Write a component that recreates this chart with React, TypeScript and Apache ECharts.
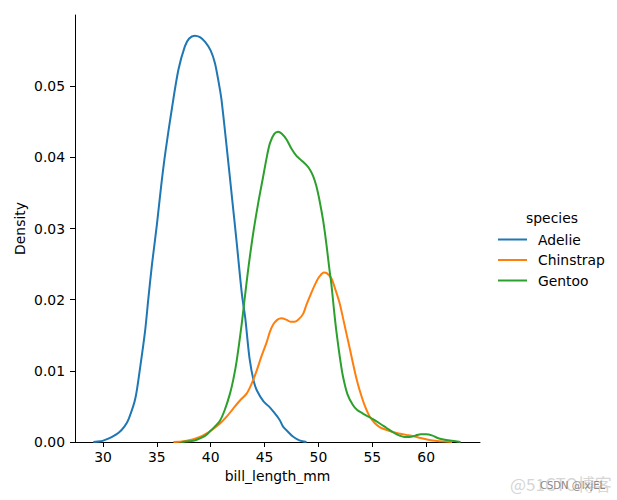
import React, { useEffect, useRef } from "react";
import * as echarts from "echarts";

const species = ["Adelie", "Chinstrap", "Gentoo"];
const colors = ["#1f77b4", "#ff7f0e", "#2ca02c"];

const adelieX = [29.1, 29.8, 30.2, 30.8, 31.45, 32.0, 32.4, 33.0, 33.45, 33.9, 34.2, 34.55, 35.0, 35.4, 35.8, 36.4, 37.0, 37.6, 38.0, 38.5, 39.0, 39.5, 40.0, 40.4, 40.8, 41.0, 41.5, 42.0, 42.4, 42.9, 43.2, 43.6, 44.0, 44.3, 44.9, 45.4, 45.8, 46.4, 46.7, 47.2, 47.6, 48.0, 48.5, 48.9];
const adelieY = [0, 0.0001, 0.0003, 0.0007, 0.0013, 0.0022, 0.0033, 0.0061, 0.0105, 0.0155, 0.02, 0.025, 0.0305, 0.036, 0.0408, 0.0469, 0.0523, 0.0556, 0.0567, 0.0571, 0.0569, 0.0562, 0.055, 0.0532, 0.05, 0.0481, 0.0412, 0.034, 0.0282, 0.0207, 0.0175, 0.0118, 0.0085, 0.0072, 0.0057, 0.005, 0.0043, 0.0031, 0.0022, 0.0014, 0.0008, 0.0004, 0.0001, 0];

const chinstrapX = [36.54, 37.5, 38.4, 39.0, 39.63, 40.2, 40.86, 41.5, 42.09, 42.7, 43.33, 43.8, 44.26, 44.7, 45.19, 45.5, 45.8, 46.2, 46.57, 47.0, 47.4, 47.8, 48.2, 48.58, 48.89, 49.35, 49.8, 50.12, 50.5, 50.8, 51.2, 51.6, 51.97, 52.3, 52.59, 52.9, 53.2, 53.5, 53.82, 54.3, 54.75, 55.2, 55.68, 56.3, 56.9, 57.5, 58.15, 58.8, 59.38, 60.0, 60.6, 61.4, 62.4];
const chinstrapY = [0, 0.0001, 0.0004, 0.0007, 0.0012, 0.0018, 0.0026, 0.0036, 0.0047, 0.0058, 0.0068, 0.0082, 0.01, 0.012, 0.014, 0.0155, 0.0165, 0.0172, 0.0174, 0.0172, 0.0169, 0.0169, 0.0173, 0.018, 0.0193, 0.021, 0.0225, 0.0233, 0.0238, 0.0237, 0.023, 0.0213, 0.0195, 0.0173, 0.0153, 0.0132, 0.0111, 0.0091, 0.0073, 0.0051, 0.0036, 0.0027, 0.0021, 0.0017, 0.0014, 0.0012, 0.001, 0.0008, 0.0006, 0.0004, 0.0002, 0.0001, 0];

const gentooX = [37.3, 38.0, 38.5, 39.0, 39.5, 39.94, 40.4, 40.86, 41.3, 41.79, 42.1, 42.4, 42.87, 43.18, 43.5, 43.94, 44.4, 44.87, 45.2, 45.5, 45.9, 46.26, 46.6, 47.04, 47.5, 47.96, 48.4, 48.89, 49.2, 49.5, 49.8, 50.12, 50.45, 50.74, 51.0, 51.2, 51.45, 51.67, 52.0, 52.28, 52.7, 53.2, 53.6, 54.13, 54.6, 55.06, 55.7, 56.3, 57.0, 57.53, 58.0, 58.45, 59.0, 59.5, 60.0, 60.6, 61.0, 61.5, 62.2, 63.2];
const gentooY = [0, 0.0001, 0.0002, 0.0005, 0.0009, 0.0015, 0.0022, 0.003, 0.0045, 0.0068, 0.0088, 0.0113, 0.0165, 0.0205, 0.0245, 0.0293, 0.0335, 0.0373, 0.04, 0.042, 0.0433, 0.0436, 0.0433, 0.0425, 0.0412, 0.0402, 0.0396, 0.0389, 0.0383, 0.0374, 0.036, 0.0338, 0.031, 0.0278, 0.0245, 0.0222, 0.0185, 0.0155, 0.0118, 0.0092, 0.0067, 0.0052, 0.0045, 0.004, 0.0036, 0.0032, 0.0026, 0.002, 0.0013, 0.0009, 0.0007, 0.0007, 0.0009, 0.0011, 0.0011, 0.0009, 0.0006, 0.0004, 0.0002, 0];

const xTicks = [30, 35, 40, 45, 50, 55, 60];
const yTicks = [0, 0.01, 0.02, 0.03, 0.04, 0.05];

const FONT = "DejaVu Sans";
const FS = 13.9;

export default function App() {
  const ref = useRef<HTMLDivElement>(null);
  useEffect(() => {
    if (!ref.current) return;
    const chart = echarts.init(ref.current, undefined, { renderer: "svg" });
    const xs = [adelieX, chinstrapX, gentooX];
    const ys = [adelieY, chinstrapY, gentooY];
    const series = species.map((name, i) => ({
      name,
      type: "line",
      data: xs[i].map((x, j) => [x, ys[i][j]]),
      showSymbol: false,
      symbol: "none",
      smooth: 0.3,
      lineStyle: { color: colors[i], width: 2 },
      itemStyle: { color: colors[i] },
    }));
    const graphics: any[] = [
      {
        type: "text",
        x: 20,
        y: 228.5,
        rotation: Math.PI / 2,
        style: { text: "Density", font: `${FS}px "${FONT}"`, fill: "#000", align: "center", verticalAlign: "middle" },
      },
      {
        type: "text",
        x: 552,
        y: 218,
        style: { text: "species", font: `${FS}px "${FONT}"`, fill: "#000", align: "center", verticalAlign: "middle" },
      },
    ];
    const rows = [239.5, 260, 280.5];
    species.forEach((name, i) => {
      graphics.push({
        type: "line",
        shape: { x1: 498, y1: rows[i], x2: 527, y2: rows[i] },
        style: { stroke: colors[i], lineWidth: 2 },
      });
      graphics.push({
        type: "text",
        x: 538,
        y: rows[i],
        style: { text: name, font: `${FS}px "${FONT}"`, fill: "#000", align: "left", verticalAlign: "middle" },
      });
    });
    graphics.push({
      type: "text",
      x: 510,
      y: 483,
      style: { text: "@51CTO博客", font: `17px "Noto Sans CJK SC"`, fill: "#d6d6d6", align: "left", verticalAlign: "middle" },
    });
    graphics.push({
      type: "text",
      x: 540,
      y: 485,
      style: { text: "CSDN @lxjEL", font: `10px "${FONT}"`, fill: "#888", align: "left", verticalAlign: "middle" },
    });
    const axisCommon = {
      axisLine: { show: true, lineStyle: { color: "#000", width: 1 } },
      axisTick: { show: true, length: 5, inside: false, lineStyle: { color: "#000", width: 1 } },
      splitLine: { show: false },
      nameTextStyle: { fontFamily: FONT, fontSize: FS, color: "#000" },
    };
    chart.setOption({
      animation: false,
      backgroundColor: "#fff",
      grid: { left: 75, right: 137, top: 15, bottom: 58, containLabel: false },
      xAxis: {
        type: "value",
        min: 27.4,
        max: 65,
        name: "bill_length_mm",
        nameLocation: "middle",
        nameGap: 27,
        ...axisCommon,
        axisTick: { ...axisCommon.axisTick, customValues: xTicks },
        axisLabel: { customValues: xTicks, fontFamily: FONT, fontSize: FS, color: "#000", margin: 8 },
      },
      yAxis: {
        type: "value",
        min: 0,
        max: 0.06,
        ...axisCommon,
        axisTick: { ...axisCommon.axisTick, customValues: yTicks },
        axisLabel: {
          customValues: yTicks,
          fontFamily: FONT,
          fontSize: FS,
          color: "#000",
          margin: 10,
          formatter: (v: number) => v.toFixed(2),
        },
      },
      series,
      graphic: graphics,
    });
    return () => chart.dispose();
  }, []);
  return (
    <div
      ref={ref}
      style={{ position: "fixed", left: 0, top: 0, width: 617, height: 500 }}
    />
  );
}
